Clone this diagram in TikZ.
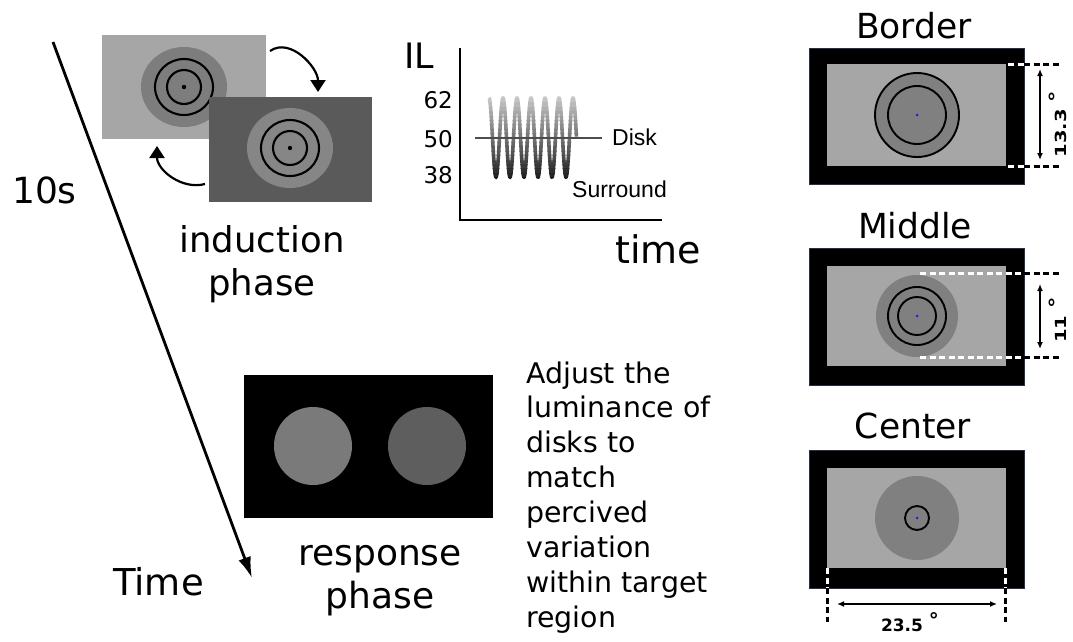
\documentclass[tikz,border=0pt]{standalone}
\usepackage{fontspec}
\setmainfont{DejaVu Sans}
\newfontfamily\arialfont{Liberation Sans}
\usetikzlibrary{arrows.meta}

\definecolor{lightscreen}{HTML}{A6A6A6}
\definecolor{darkscreen}{HTML}{5A5A5A}
\definecolor{surrounddark}{HTML}{7D7D7D}
\definecolor{surroundlight}{HTML}{868686}
\definecolor{testdiskA}{HTML}{7A7A7A}
\definecolor{testdiskB}{HTML}{5E5E5E}
\definecolor{stimgray}{HTML}{808080}
\definecolor{fixblue}{HTML}{2323D8}
\definecolor{framenavy}{HTML}{26304A}
\definecolor{disklevel}{HTML}{4D4D4D}

\newcommand{\degmark}{\raisebox{4pt}{\fontsize{20}{20}\selectfont °}}

\begin{document}
\begin{tikzpicture}[x=1pt,y=1pt,
  bigtext/.style={font=\fontsize{36}{43}\selectfont, inner sep=0pt},
  bodytext/.style={font=\fontsize{28.4}{35}\selectfont, inner sep=0pt, anchor=base west},
  ticktext/.style={font=\fontsize{23}{26}\selectfont, inner sep=0pt, anchor=base east},
  curvetext/.style={font=\arialfont\fontsize{23}{26}\selectfont, inner sep=0pt, anchor=base west},
  titletext/.style={font=\fontsize{34.5}{40}\selectfont, inner sep=0pt, anchor=base},
  dimtext/.style={font=\bfseries\fontsize{17}{19}\selectfont, inner sep=0pt, anchor=base},
  ring/.style={draw=black, line width=2.1pt},
  swapcurve/.style={line width=2.2pt, -{Triangle[length=12pt,width=15pt]}},
  timearrow/.style={line width=2.8pt, -{Latex[length=21pt,width=13pt]}},
  outerframe/.style={fill=black, draw=framenavy, line width=0.6pt},
  innerscreen/.style={fill=lightscreen},
  whitedash/.style={draw=white, line width=3pt, dash pattern=on 6pt off 3.5pt},
  blackdash/.style={draw=black, line width=3pt, dash pattern=on 6pt off 3.5pt},
  dimarrow/.style={line width=1.6pt, {Latex[length=7pt,width=6pt]}-{Latex[length=7pt,width=6pt]}},
  stimring/.style={draw=black, line width=1.9pt}
]
\useasboundingbox (0,0) rectangle (1073,-641);

% ---------- time axis ----------
\coordinate (tstart) at (53,-42);
\coordinate (tend) at (252,-578);
\draw[timearrow] (tstart) -- (tend);
\node[bigtext, anchor=base west] (tensec) at (12,-203) {10s};
\node[bigtext, anchor=base west, font=\fontsize{37}{43}\selectfont] (timelabel) at (113,-595) {Time};

% ---------- induction phase ----------
\fill[lightscreen] (102,-35) rectangle (266,-139);
\fill[surrounddark] (184,-87) ellipse [x radius=43, y radius=40];
\draw[ring] (184,-87) ellipse [x radius=29, y radius=28];
\draw[ring] (184,-87) circle [radius=17];
\fill (184,-87) circle [radius=2.2];

\fill[darkscreen] (209,-97) rectangle (372,-202);
\fill[surroundlight] (290,-148) ellipse [x radius=43, y radius=40];
\draw[ring] (290,-148) ellipse [x radius=29, y radius=28];
\draw[ring] (290,-148) circle [radius=17];
\fill (290,-148) circle [radius=2.2];

\coordinate (swapAfrom) at (270,-51);
\coordinate (swapAto) at (318,-92);
\coordinate (swapBfrom) at (205,-184);
\coordinate (swapBto) at (157,-146);
\draw[swapcurve] (swapAfrom) to[out=35,in=90] (swapAto);
\draw[swapcurve] (swapBfrom) to[out=195,in=-90] (swapBto);

\node[bigtext, anchor=base, font=\fontsize{35.5}{43}\selectfont] (indA) at (262,-252) {induction};
\node[bigtext, anchor=base, font=\fontsize{35.5}{43}\selectfont] (indB) at (262,-295) {phase};

% ---------- luminance time course ----------
\coordinate (axtop) at (460,-48);
\coordinate (axorigin) at (460,-220);
\coordinate (axright) at (662,-220);
\draw[line width=2.6pt] (axtop) -- (axorigin) -- (axright);
\node[bigtext, anchor=base west, font=\fontsize{35}{40}\selectfont] (ILlabel) at (404,-68) {IL};
\node[ticktext] (t62) at (453,-108) {62};
\node[ticktext] (t50) at (453,-147) {50};
\node[ticktext] (t38) at (453,-183) {38};
\node[bigtext, anchor=base west, font=\fontsize{38}{43}\selectfont] (timeax) at (615,-263) {time};

% oscillating surround luminance, shaded light (top) to dark (bottom)
\foreach \k in {0,...,19}{
  \pgfmathtruncatemacro\shade{20+70*\k/19}
  \begin{scope}
    \clip (480,{-94-4.4*\k}) rectangle (585,{-94-4.4*(\k+1)});
    \draw[line width=3.6pt, black!\shade]
      plot[domain=0:6.25, samples=400] ({489+14*\x},{-137.5+39.5*cos(360*\x)});
  \end{scope}
}
\coordinate (diskL) at (475,-138);
\coordinate (diskR) at (602,-138);
\draw[disklevel, line width=2.2pt] (diskL) -- (diskR);
\node[curvetext] (disklbl) at (612,-145) {Disk};
\node[curvetext] (surrlbl) at (572,-197) {Surround};

% ---------- response phase ----------
\fill[black] (244,-375) rectangle (493,-518);
\fill[testdiskA] (313,-446) circle [radius=39];
\fill[testdiskB] (427,-446) circle [radius=39];
\node[bigtext, anchor=base] (respA) at (380,-565) {response};
\node[bigtext, anchor=base] (respB) at (380,-608) {phase};

\foreach \t [count=\i] in {Adjust the, luminance of, disks to, match, percived, variation, within target, region}{
  \node[bodytext] (instr\i) at (526,{-383-34.9*(\i-1)}) {\t};
}

% ---------- target-region conditions ----------
% Border
\node[titletext] (ttlBorder) at (914,-38) {Border};
\filldraw[outerframe] (809,-48) rectangle (1024,-184);
\fill[innerscreen] (827,-64) rectangle (1006,-166);
\filldraw[fill=stimgray, stimring] (917,-115) circle [radius=42];
\draw[stimring] (917,-115) circle [radius=29];
\fill[fixblue] (917,-115) circle [radius=1.5];
\draw[whitedash] (1008,-64) -- (1024,-64);
\draw[whitedash] (1008,-166) -- (1024,-166);
\draw[blackdash] (1024,-64) -- (1062,-64);
\draw[blackdash] (1024,-166) -- (1062,-166);
\coordinate (bA) at (1040,-69);
\coordinate (bB) at (1040,-160);
\draw[dimarrow] (bA) -- (bB);
\node[dimtext, rotate=90] (dimBorder) at (1066,-124) {\scalebox{1.15}[0.9]{13.3 \degmark}};

% Middle
\node[titletext] (ttlMiddle) at (915,-238) {Middle};
\filldraw[outerframe] (809,-248) rectangle (1024,-385);
\fill[innerscreen] (827,-266) rectangle (1006,-366);
\fill[stimgray] (917,-316) circle [radius=41];
\draw[stimring] (917,-316) circle [radius=29];
\draw[stimring] (917,-316) circle [radius=19];
\fill[fixblue] (917,-316) circle [radius=1.5];
\draw[whitedash] (920,-273) -- (1024,-273);
\draw[whitedash] (920,-357) -- (1024,-357);
\draw[blackdash] (1024,-273) -- (1062,-273);
\draw[blackdash] (1024,-357) -- (1062,-357);
\coordinate (mA) at (1040,-284);
\coordinate (mB) at (1040,-349);
\draw[dimarrow] (mA) -- (mB);
\node[dimtext, rotate=90] (dimMiddle) at (1066,-320) {\scalebox{1.15}[0.9]{11 \degmark}};

% Center
\node[titletext] (ttlCenter) at (913,-438) {Center};
\filldraw[outerframe] (809,-450) rectangle (1024,-588);
\fill[innerscreen] (827,-468) rectangle (1006,-568);
\fill[stimgray] (917,-518) circle [radius=42];
\draw[stimring] (917,-518) circle [radius=12];
\fill[fixblue] (917,-518) circle [radius=1.5];
\draw[whitedash] (827,-568) -- (827,-588);
\draw[whitedash] (1005,-568) -- (1005,-588);
\draw[blackdash] (827,-588) -- (827,-622);
\draw[blackdash] (1005,-588) -- (1005,-622);
\coordinate (cA) at (837,-604);
\coordinate (cB) at (997,-604);
\draw[dimarrow] (cA) -- (cB);
\node[dimtext] (dimCenter) at (910,-631) {23.5 \degmark};
\end{tikzpicture}
\end{document}
